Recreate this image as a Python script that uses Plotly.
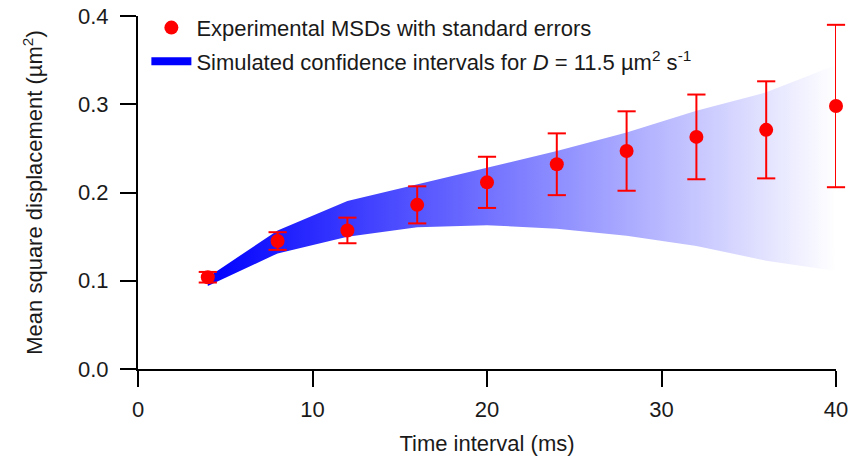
import plotly.graph_objects as go

# Experimental MSDs
time_ms = [4, 8, 12, 16, 20, 24, 28, 32, 36, 40]
msd = [0.104, 0.145, 0.157, 0.186, 0.2115, 0.232, 0.247, 0.263, 0.271, 0.298]
msd_err = [0.006, 0.010, 0.0145, 0.021, 0.029, 0.035, 0.045, 0.048, 0.055, 0.092]

# Simulated confidence interval band
band_time = [4, 8, 12, 16, 20, 24, 28, 32, 36, 40]
band_upper = [0.104, 0.157, 0.1905, 0.2095, 0.2285, 0.247, 0.268, 0.2925, 0.3135, 0.3445]
band_lower = [0.094, 0.131, 0.150, 0.1605, 0.163, 0.159, 0.151, 0.1395, 0.1227, 0.111]

FONT = "Arial, Liberation Sans, sans-serif"
FS = 22
RED = "#ff0000"

fig = go.Figure()

# band polygon (not in legend)
fig.add_trace(go.Scatter(
    x=band_time + band_time[::-1],
    y=band_upper + band_lower[::-1],
    mode="lines",
    fill="toself",
    line=dict(width=0, color="rgba(0,0,255,0)"),
    fillgradient=dict(
        type="horizontal",
        colorscale=[[0, "rgb(0,0,255)"], [1, "rgb(255,255,255)"]],
    ),
    showlegend=False,
    hoverinfo="skip",
))

# error-bar caps drawn as unclipped markers (so the cap at x=40 is not cut)
cap_x = time_ms + time_ms
cap_y = [m + e for m, e in zip(msd, msd_err)] + [m - e for m, e in zip(msd, msd_err)]
fig.add_trace(go.Scatter(
    x=cap_x, y=cap_y,
    mode="markers",
    marker=dict(symbol="line-ew", size=13, line=dict(color=RED, width=2)),
    showlegend=False, hoverinfo="skip", cliponaxis=False,
))

fig.add_trace(go.Scatter(
    x=time_ms, y=msd,
    mode="markers",
    marker=dict(color=RED, size=14, symbol="circle"),
    error_y=dict(type="data", array=msd_err, color=RED, thickness=2, width=0),
    name="Experimental MSDs with standard errors",
    legendgroup="a",
    cliponaxis=False,
))

# legend proxy for band
fig.add_trace(go.Scatter(
    x=[None], y=[None],
    mode="lines",
    line=dict(color="#0000ff", width=8),
    name="Simulated confidence intervals for <i>D</i> = 11.5 µm<sup>2</sup> s<sup>-1</sup>",
    legendgroup="b",
))

fig.update_layout(
    width=854, height=465,
    margin=dict(l=138, r=18, t=16, b=96, autoexpand=False),
    paper_bgcolor="white", plot_bgcolor="white",
    font=dict(family=FONT, size=FS, color="#1a1a1a"),
    legend=dict(
        x=0.012, y=1.026, xanchor="left", yanchor="top",
        bgcolor="rgba(0,0,0,0)", font=dict(size=FS),
        traceorder="grouped", tracegroupgap=2, itemwidth=40,
    ),
    xaxis=dict(
        range=[0, 40], tickvals=[0, 10, 20, 30, 40],
        showline=True, linecolor="black", linewidth=2,
        ticks="outside", ticklen=16, tickwidth=2, tickcolor="black",
        showgrid=False, zeroline=False, ticklabelstandoff=4,
        ticklabeloverflow="allow",
        automargin=False, tickfont=dict(size=FS),
        title=dict(text="Time interval (ms)", font=dict(size=FS), standoff=14),
    ),
    yaxis=dict(
        range=[0, 0.4], tickvals=[0, 0.1, 0.2, 0.3, 0.4],
        tickformat=".1f",
        showline=True, linecolor="black", linewidth=2,
        ticks="outside", ticklen=16, tickwidth=2, tickcolor="black",
        showgrid=False, zeroline=False, ticklabelstandoff=7,
        ticklabeloverflow="allow",
        automargin=False, tickfont=dict(size=FS),
        title=dict(text="Mean square displacement (µm<sup>2</sup>)", font=dict(size=FS), standoff=29),
    ),
)

fig.write_html(
    "out.html",
    config={"displayModeBar": False},
    post_script="document.body.style.margin='0px';document.body.style.padding='0px';",
)
